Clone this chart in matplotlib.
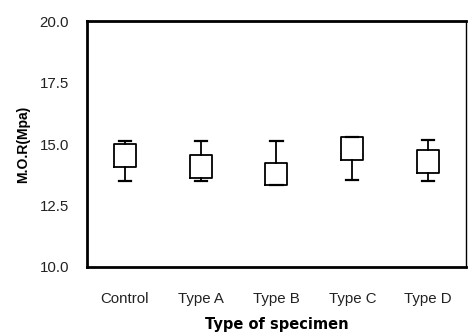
import matplotlib
matplotlib.use("Agg")
import matplotlib.pyplot as plt

plt.rcParams['font.family'] = ['Liberation Sans', 'DejaVu Sans']

categories = ["Control", "Type A", "Type B", "Type C", "Type D"]
whisker_high = [15.12, 15.12, 15.12, 15.28, 15.16]
box_top = [15.0, 14.55, 14.23, 15.28, 14.76]
box_bottom = [14.07, 13.62, 13.33, 14.35, 13.82]
whisker_low = [13.5, 13.5, 13.33, 13.54, 13.5]
y_ticks = [10.0, 12.5, 15.0, 17.5, 20.0]
y_tick_labels = ["10.0", "12.5", "15.0", "17.5", "20.0"]

fig = plt.figure(figsize=(4.69, 3.34), dpi=100)
ax = fig.add_axes([0.1855, 0.2006, 0.808, 0.736])

stats = []
for name, hi, q3, q1, lo in zip(categories, whisker_high, box_top, box_bottom, whisker_low):
    stats.append(dict(label=name, med=q1, q1=q1, q3=q3, whislo=lo, whishi=hi, fliers=[]))

ax.bxp(stats, positions=range(len(categories)), widths=0.29, showfliers=False,
       boxprops=dict(color='black', linewidth=1.3),
       whiskerprops=dict(color='black', linewidth=1.3),
       capprops=dict(color='black', linewidth=1.6),
       medianprops=dict(color='black', linewidth=0),
       capwidths=0.16)

ax.set_xlim(-0.5, len(categories) - 0.5)
ax.set_ylim(10, 20)
ax.set_yticks(y_ticks)
ax.set_yticklabels(y_tick_labels)
ax.set_xticks(range(len(categories)))
ax.set_xticklabels(categories)
ax.tick_params(axis='both', length=0, labelsize=10.8, colors='#222222')
ax.tick_params(axis='x', pad=18)
ax.tick_params(axis='y', pad=13)

for s in ['left', 'bottom', 'top']:
    ax.spines[s].set_linewidth(2.0)
ax.spines['right'].set_linewidth(1.0)

ax.set_xlabel("Type of specimen", fontsize=10.5, fontweight='bold', labelpad=8,
              family=['DejaVu Sans'])
ax.set_ylabel("M.O.R(Mpa)", fontsize=10, fontweight='bold', labelpad=7)

fig.savefig("out.png", dpi=100)
